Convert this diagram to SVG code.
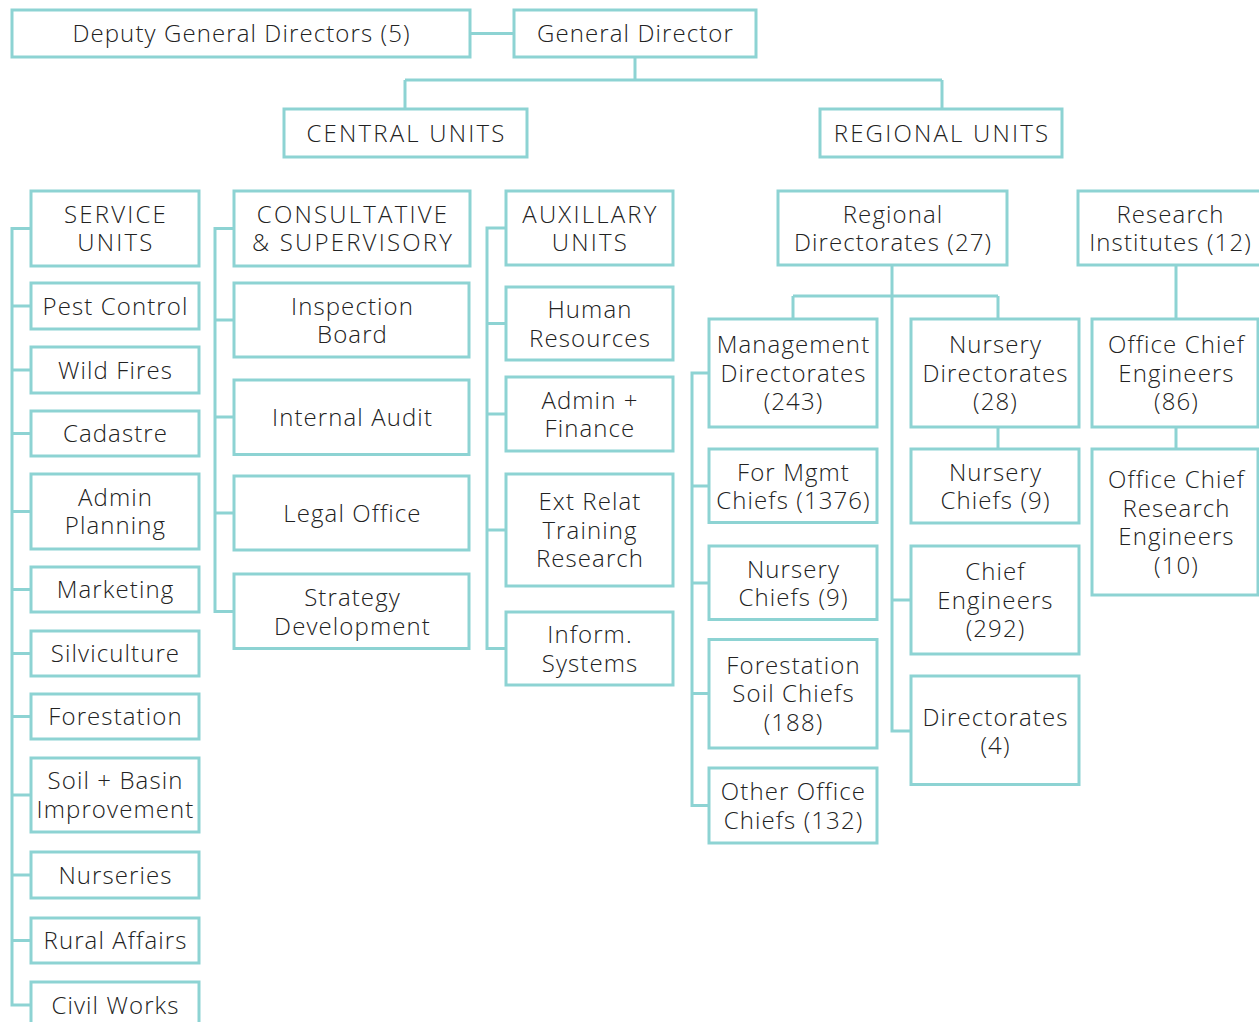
<svg xmlns="http://www.w3.org/2000/svg" width="1259" height="1022" viewBox="0 0 1259 1022">
  <style>
    .box { fill: #ffffff; stroke: #8dd3d3; stroke-width: 3; }
    .link { fill: none; stroke: #8dd3d3; stroke-width: 3; }
    .lbl { font-family: "Open Sans", "Liberation Sans", sans-serif; font-size: 24px; font-weight: 300; fill: #222222; text-anchor: middle; letter-spacing: 1.1px; }
    .caps { letter-spacing: 2.2px; }
  </style>
  <rect width="1259" height="1022" fill="#ffffff"/>

  <!-- connectors -->
  <g id="connectors" class="link">
    <path d="M470 33.5H514"/>
    <path d="M635 57V80M405 80H942M405 80V109M942 80V109"/>
    <!-- service units spine -->
    <path d="M31 228.5H12V1005H31M12 306H31M12 370H31M12 433.5H31M12 511.5H31M12 589.5H31M12 653.5H31M12 716.5H31M12 795H31M12 875H31M12 940.5H31"/>
    <!-- consultative spine -->
    <path d="M234 228.5H215V611.5H234M215 320H234M215 417H234M215 513H234"/>
    <!-- auxiliary spine -->
    <path d="M506 228H487V648.5H506M487 323.5H506M487 414H506M487 530H506"/>
    <!-- regional directorates -->
    <path d="M892 265V731H911M892 600H911M793 296H998M793 296V319M998 296V319M998 427V449"/>
    <!-- management directorates spine -->
    <path d="M709 373H692V805.5H709M692 486H709M692 583H709M692 693.5H709"/>
    <!-- research institutes -->
    <path d="M1176 265V319M1176 427V449"/>
  </g>

  <!-- top level -->
  <g id="deputy"><rect class="box" x="12" y="10" width="458" height="47"/><text class="lbl" x="241.5" y="42">Deputy General Directors (5)</text></g>
  <g id="general-director"><rect class="box" x="514" y="10" width="242" height="47"/><text class="lbl" x="635.5" y="42">General Director</text></g>
  <g id="central-units"><rect class="box" x="284" y="109" width="243" height="48"/><text class="lbl caps" x="406.5" y="142">CENTRAL UNITS</text></g>
  <g id="regional-units"><rect class="box" x="820" y="109" width="242" height="48"/><text class="lbl caps" x="942" y="142">REGIONAL UNITS</text></g>

  <!-- service units -->
  <g id="service-units"><rect class="box" x="31" y="191" width="168" height="75"/><text class="lbl caps"><tspan x="116" y="223">SERVICE</tspan><tspan x="116" y="251">UNITS</tspan></text></g>
  <g id="pest-control"><rect class="box" x="31" y="283" width="168" height="46"/><text class="lbl" x="115.5" y="314.5">Pest Control</text></g>
  <g id="wild-fires"><rect class="box" x="31" y="347" width="168" height="46"/><text class="lbl" x="115.5" y="378.5">Wild Fires</text></g>
  <g id="cadastre"><rect class="box" x="31" y="411" width="168" height="45"/><text class="lbl" x="115.5" y="442">Cadastre</text></g>
  <g id="admin-planning"><rect class="box" x="31" y="474" width="168" height="75"/><text class="lbl"><tspan x="115.5" y="506">Admin</tspan><tspan x="115.5" y="534">Planning</tspan></text></g>
  <g id="marketing"><rect class="box" x="31" y="567" width="168" height="45"/><text class="lbl" x="115.5" y="598">Marketing</text></g>
  <g id="silviculture"><rect class="box" x="31" y="631" width="168" height="45"/><text class="lbl" x="115.5" y="662">Silviculture</text></g>
  <g id="forestation"><rect class="box" x="31" y="694" width="168" height="45"/><text class="lbl" x="115.5" y="725">Forestation</text></g>
  <g id="soil-basin"><rect class="box" x="31" y="758" width="168" height="74"/><text class="lbl"><tspan x="115.5" y="789">Soil + Basin</tspan><tspan x="115.5" y="818">Improvement</tspan></text></g>
  <g id="nurseries"><rect class="box" x="31" y="852" width="168" height="46"/><text class="lbl" x="115.5" y="883.5">Nurseries</text></g>
  <g id="rural-affairs"><rect class="box" x="31" y="918" width="168" height="45"/><text class="lbl" x="115.5" y="949">Rural Affairs</text></g>
  <g id="civil-works"><rect class="box" x="31" y="982" width="168" height="46"/><text class="lbl" x="115.5" y="1013.5">Civil Works</text></g>

  <!-- consultative & supervisory -->
  <g id="consultative"><rect class="box" x="234" y="191" width="236" height="75"/><text class="lbl caps"><tspan x="353" y="223">CONSULTATIVE</tspan><tspan x="353" y="251">&amp; SUPERVISORY</tspan></text></g>
  <g id="inspection-board"><rect class="box" x="234" y="283" width="235" height="74"/><text class="lbl"><tspan x="352.5" y="314.5">Inspection</tspan><tspan x="352.5" y="343">Board</tspan></text></g>
  <g id="internal-audit"><rect class="box" x="234" y="380" width="235" height="74.5"/><text class="lbl" x="352.5" y="425.5">Internal Audit</text></g>
  <g id="legal-office"><rect class="box" x="234" y="476" width="235" height="74"/><text class="lbl" x="352.5" y="521.5">Legal Office</text></g>
  <g id="strategy-development"><rect class="box" x="234" y="574" width="235" height="74.5"/><text class="lbl"><tspan x="352.5" y="606">Strategy</tspan><tspan x="352.5" y="634.5">Development</tspan></text></g>

  <!-- auxillary units -->
  <g id="auxillary-units"><rect class="box" x="506" y="191" width="167" height="74"/><text class="lbl caps"><tspan x="590.5" y="222.5">AUXILLARY</tspan><tspan x="590.5" y="251">UNITS</tspan></text></g>
  <g id="human-resources"><rect class="box" x="506" y="287" width="167" height="73"/><text class="lbl"><tspan x="590" y="318">Human</tspan><tspan x="590" y="346.5">Resources</tspan></text></g>
  <g id="admin-finance"><rect class="box" x="506" y="377" width="167" height="74"/><text class="lbl"><tspan x="590" y="408.5">Admin +</tspan><tspan x="590" y="437">Finance</tspan></text></g>
  <g id="ext-relat"><rect class="box" x="506" y="474" width="167" height="112"/><text class="lbl"><tspan x="590" y="510">Ext Relat</tspan><tspan x="590" y="538.5">Training</tspan><tspan x="590" y="567">Research</tspan></text></g>
  <g id="inform-systems"><rect class="box" x="506" y="612" width="167" height="73"/><text class="lbl"><tspan x="590" y="643">Inform.</tspan><tspan x="590" y="671.5">Systems</tspan></text></g>

  <!-- regional directorates -->
  <g id="regional-directorates"><rect class="box" x="778" y="191" width="229" height="74"/><text class="lbl"><tspan x="893" y="222.5">Regional</tspan><tspan x="893" y="251">Directorates (27)</tspan></text></g>
  <g id="management-directorates"><rect class="box" x="709" y="319" width="168" height="108"/><text class="lbl"><tspan x="793.5" y="353">Management</tspan><tspan x="793.5" y="381.5">Directorates</tspan><tspan x="793.5" y="410">(243)</tspan></text></g>
  <g id="for-mgmt-chiefs"><rect class="box" x="709" y="449" width="168" height="73.5"/><text class="lbl"><tspan x="793.5" y="480.5">For Mgmt</tspan><tspan x="793.5" y="509">Chiefs (1376)</tspan></text></g>
  <g id="nursery-chiefs-mgmt"><rect class="box" x="709" y="546" width="168" height="73.5"/><text class="lbl"><tspan x="793.5" y="577.5">Nursery</tspan><tspan x="793.5" y="606">Chiefs (9)</tspan></text></g>
  <g id="forestation-soil-chiefs"><rect class="box" x="709" y="639.5" width="168" height="108.5"/><text class="lbl"><tspan x="793.5" y="673.5">Forestation</tspan><tspan x="793.5" y="702">Soil Chiefs</tspan><tspan x="793.5" y="730.5">(188)</tspan></text></g>
  <g id="other-office-chiefs"><rect class="box" x="709" y="768" width="168" height="75"/><text class="lbl"><tspan x="793.5" y="800">Other Office</tspan><tspan x="793.5" y="828.5">Chiefs (132)</tspan></text></g>
  <g id="nursery-directorates"><rect class="box" x="911" y="319" width="168" height="108"/><text class="lbl"><tspan x="995.5" y="353">Nursery</tspan><tspan x="995.5" y="381.5">Directorates</tspan><tspan x="995.5" y="410">(28)</tspan></text></g>
  <g id="nursery-chiefs"><rect class="box" x="911" y="449" width="168" height="74"/><text class="lbl"><tspan x="995.5" y="480.5">Nursery</tspan><tspan x="995.5" y="509">Chiefs (9)</tspan></text></g>
  <g id="chief-engineers"><rect class="box" x="911" y="546" width="168" height="108"/><text class="lbl"><tspan x="995.5" y="580">Chief</tspan><tspan x="995.5" y="608.5">Engineers</tspan><tspan x="995.5" y="637">(292)</tspan></text></g>
  <g id="directorates-4"><rect class="box" x="911" y="676" width="168" height="108.5"/><text class="lbl"><tspan x="995.5" y="725.5">Directorates</tspan><tspan x="995.5" y="754">(4)</tspan></text></g>

  <!-- research institutes -->
  <g id="research-institutes"><rect class="box" x="1078" y="191" width="184" height="74"/><text class="lbl"><tspan x="1170.5" y="222.5">Research</tspan><tspan x="1170.5" y="251">Institutes (12)</tspan></text></g>
  <g id="office-chief-engineers"><rect class="box" x="1092" y="319" width="166" height="108"/><text class="lbl"><tspan x="1176.5" y="353">Office Chief</tspan><tspan x="1176.5" y="381.5">Engineers</tspan><tspan x="1176.5" y="410">(86)</tspan></text></g>
  <g id="office-chief-research-engineers"><rect class="box" x="1092" y="449" width="166" height="146"/><text class="lbl"><tspan x="1176.5" y="488">Office Chief</tspan><tspan x="1176.5" y="516.5">Research</tspan><tspan x="1176.5" y="545">Engineers</tspan><tspan x="1176.5" y="573.5">(10)</tspan></text></g>
</svg>
